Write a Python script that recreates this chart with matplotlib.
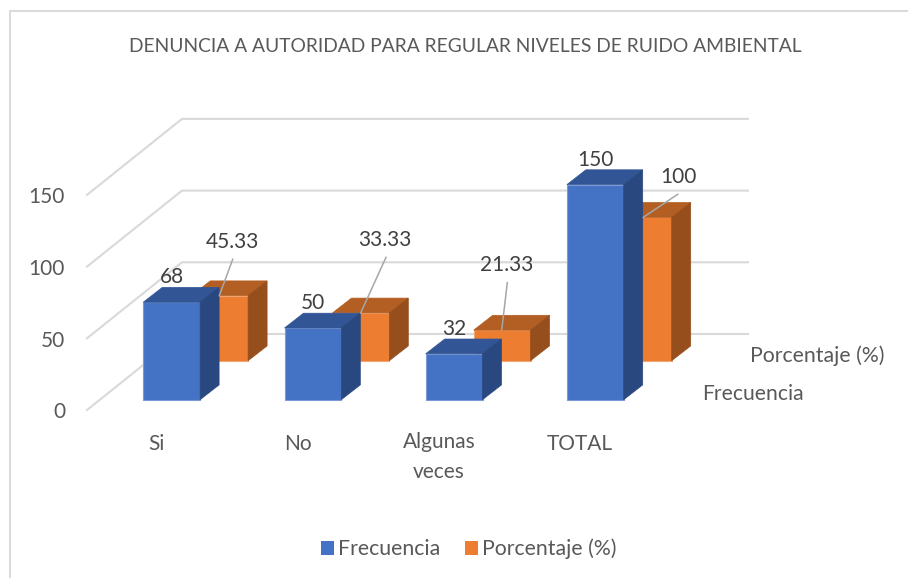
import matplotlib
matplotlib.use("Agg")
import matplotlib.pyplot as plt
from matplotlib.patches import Polygon, Patch

plt.rcParams['font.family'] = ['Lato', 'DejaVu Sans']

title = "DENUNCIA A AUTORIDAD PARA REGULAR NIVELES DE RUIDO AMBIENTAL"
categories = ["Si", "No", "Algunas\nveces", "TOTAL"]
series_names = ["Frecuencia", "Porcentaje (%)"]
frecuencia = [68, 50, 32, 150]
porcentaje = [45.33, 33.33, 21.33, 100]
porcentaje_labels = ["45.33", "33.33", "21.33", "100"]
y_ticks = [0, 50, 100, 150]

# oblique projection, axes run in image pixels
X0 = 143.3
Y0 = 399.7
STEP = 141.2
BAR_W = 56.8
SCALE = 1.434
FLOOR_DX = 95.0
FLOOR_DY = 76.0
FLOOR_X = 87.0
FLOOR_Y = 410.0
BACK_RIGHT = 748.0
FS = 15.0


def project(i, offset, depth, value):
    x = X0 + i * STEP + offset * BAR_W + depth * 48.0
    y = Y0 - depth * 39.0 - value * SCALE
    return x, y


def draw_bar(ax, i, depth, value, colors, zorder):
    dx, dy = 19.0, 14.8
    x0, y1 = project(i, 0, depth, value)
    x1, y0 = project(i, 1, depth, 0)
    ax.add_patch(Polygon([(x0, y0), (x1, y0), (x1, y1), (x0, y1)], fc=colors[0], ec=colors[3], lw=0.8, zorder=zorder))
    ax.add_patch(Polygon([(x0, y1), (x1, y1), (x1 + dx, y1 - dy), (x0 + dx, y1 - dy)], fc=colors[1], ec=colors[1], lw=0.5, zorder=zorder))
    ax.add_patch(Polygon([(x1, y0), (x1 + dx, y0 - dy), (x1 + dx, y1 - dy), (x1, y1)], fc=colors[2], ec=colors[2], lw=0.5, zorder=zorder))


fig = plt.figure(figsize=(9.08, 5.78), dpi=100)
ax = fig.add_axes([0, 0, 1, 1])
ax.set_xlim(0, 908)
ax.set_ylim(578, 0)
ax.axis('off')

# chart frame, only top and left are inside the crop
ax.plot([10, 10, 908], [578, 11, 11], color='#d9d9d9', lw=1.4, zorder=0)

for v in y_ticks:
    y = FLOOR_Y - v * SCALE
    ax.plot([FLOOR_X, FLOOR_X + FLOOR_DX, BACK_RIGHT], [y, y - FLOOR_DY, y - FLOOR_DY],
            color='#d9d9d9', lw=1.5, zorder=1, solid_joinstyle='miter')
    ax.text(65, y + 2.5, str(v), ha='right', va='center', fontsize=FS, color='#595959')

blue = ['#4472C4', '#325595', '#2A4880', '#7C9BD6']
orange = ['#ED7D31', '#B35E22', '#964F1C', '#F4A671']

for i, v in enumerate(porcentaje):
    draw_bar(ax, i, 1, v, orange, 2)
for i, v in enumerate(frecuencia):
    draw_bar(ax, i, 0, v, blue, 3)

for i, v in enumerate(frecuencia):
    x, y = project(i, 0.5, 0, v)
    ax.text(x, y - 25, str(v), ha='center', va='center', fontsize=FS, color='#404040', zorder=5)

label_xy = [(232, 242), (385, 240), (506.7, 265), (678, 177)]
leader_top = [(232.7, 259.3), (386, 257.3), (507.3, 282.7), (677.7, 194.3)]
leader_end = [219.3, 360.7, 501.7, 643.3]
for i, v in enumerate(porcentaje):
    x, y = project(i, 0, 1, v)
    ax.plot([leader_top[i][0], leader_end[i]], [leader_top[i][1], y], color='#a6a6a6', lw=1.1, zorder=4)
    ax.text(label_xy[i][0], label_xy[i][1], porcentaje_labels[i], ha='center', va='center',
            fontsize=FS, color='#404040', zorder=5)

cat_x = [156, 298, 439, 580]
cat_y = [444, 444, 457, 444]
for i, c in enumerate(categories):
    ax.text(cat_x[i], cat_y[i], c, ha='center', va='center', fontsize=FS, color='#595959', linespacing=1.65)

ax.text(750, 355.5, series_names[1], ha='left', va='center', fontsize=15.3, color='#595959')
ax.text(702, 394, series_names[0], ha='left', va='center', fontsize=15.2, color='#595959')

ax.text(465, 47, title, ha='center', va='center', fontsize=13.9, color='#595959')

handles = [Patch(fc=blue[0], label=series_names[0]), Patch(fc=orange[0], label=series_names[1])]
leg = ax.legend(handles=handles, loc='center', bbox_to_anchor=(469 / 908, 1 - 549 / 578), ncol=2, frameon=False,
                fontsize=15.3, handlelength=0.6, handleheight=0.6, handletextpad=0.2, columnspacing=1.15)
for t in leg.get_texts():
    t.set_color('#595959')

fig.savefig('out.png', dpi=100)
